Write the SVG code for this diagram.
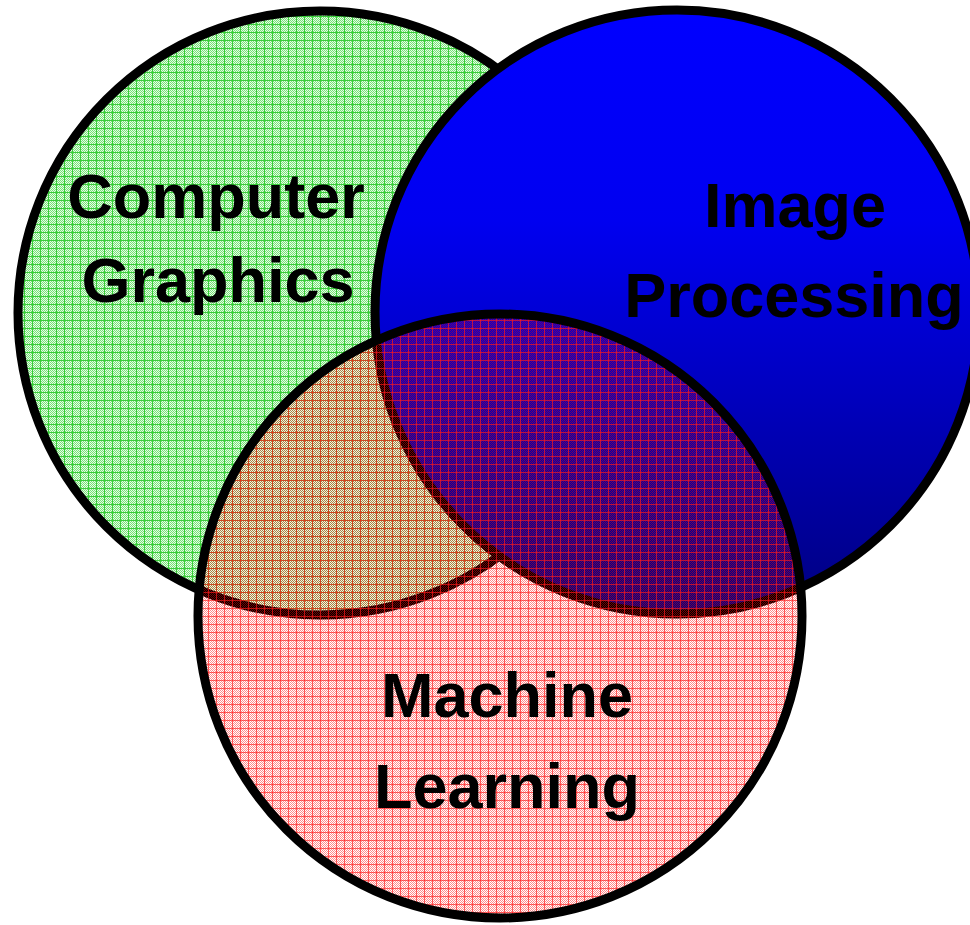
<svg xmlns="http://www.w3.org/2000/svg" width="970" height="925" viewBox="0 0 970 925">
<style>
.ring{stroke:#000;stroke-width:9}
.lbl{font-family:"Liberation Sans",Arial,sans-serif;font-weight:bold;font-size:63px;fill:#000;text-anchor:middle}
</style>
<defs>
<pattern id="gchk" width="2" height="2" patternUnits="userSpaceOnUse">
<rect width="2" height="2" fill="#e6fae6"/>
<rect width="1" height="1" fill="#77e377"/>
<rect x="1" y="1" width="1" height="1" fill="#77e377"/>
</pattern>
<pattern id="gfill" width="8" height="8" patternUnits="userSpaceOnUse">
<rect width="8" height="8" fill="url(#gchk)"/>
<rect width="8" height="1" fill="#3acc3a"/>
<rect width="1" height="8" fill="#3acc3a"/>
</pattern>
<pattern id="rchk" width="2" height="2" patternUnits="userSpaceOnUse">
<rect width="1" height="1" fill="#ff0000" fill-opacity="0.45"/>
<rect x="1" y="1" width="1" height="1" fill="#ff0000" fill-opacity="0.45"/>
</pattern>
<pattern id="rfill" width="8" height="8" patternUnits="userSpaceOnUse">
<rect width="8" height="8" fill="url(#rchk)"/>
<rect width="8" height="1" fill="#ff1a1a" fill-opacity="0.65"/>
<rect width="1" height="8" fill="#ff1a1a" fill-opacity="0.65"/>
</pattern>
<linearGradient id="bgrad" x1="0" y1="0" x2="0" y2="1">
<stop offset="0" stop-color="#0000ff"/>
<stop offset="0.35" stop-color="#0000f0"/>
<stop offset="1" stop-color="#000080"/>
</linearGradient>
</defs>
<rect width="970" height="925" fill="#fff"/>
<g id="computer-graphics">
<circle class="ring" cx="320" cy="313" r="302" fill="url(#gfill)"/>
<text class="lbl" x="216" y="218">Computer</text>
<text class="lbl" x="218" y="302">Graphics</text>
</g>
<g id="image-processing">
<circle class="ring" cx="677" cy="312" r="302" fill="url(#bgrad)"/>
<text class="lbl" x="795" y="227">Image</text>
<text class="lbl" x="794" y="317">Processing</text>
</g>
<g id="machine-learning">
<circle class="ring" cx="500" cy="616" r="302" fill="url(#rfill)"/>
<text class="lbl" x="507" y="717">Machine</text>
<text class="lbl" x="507" y="808">Learning</text>
</g>
<g id="connectors"/>
</svg>
